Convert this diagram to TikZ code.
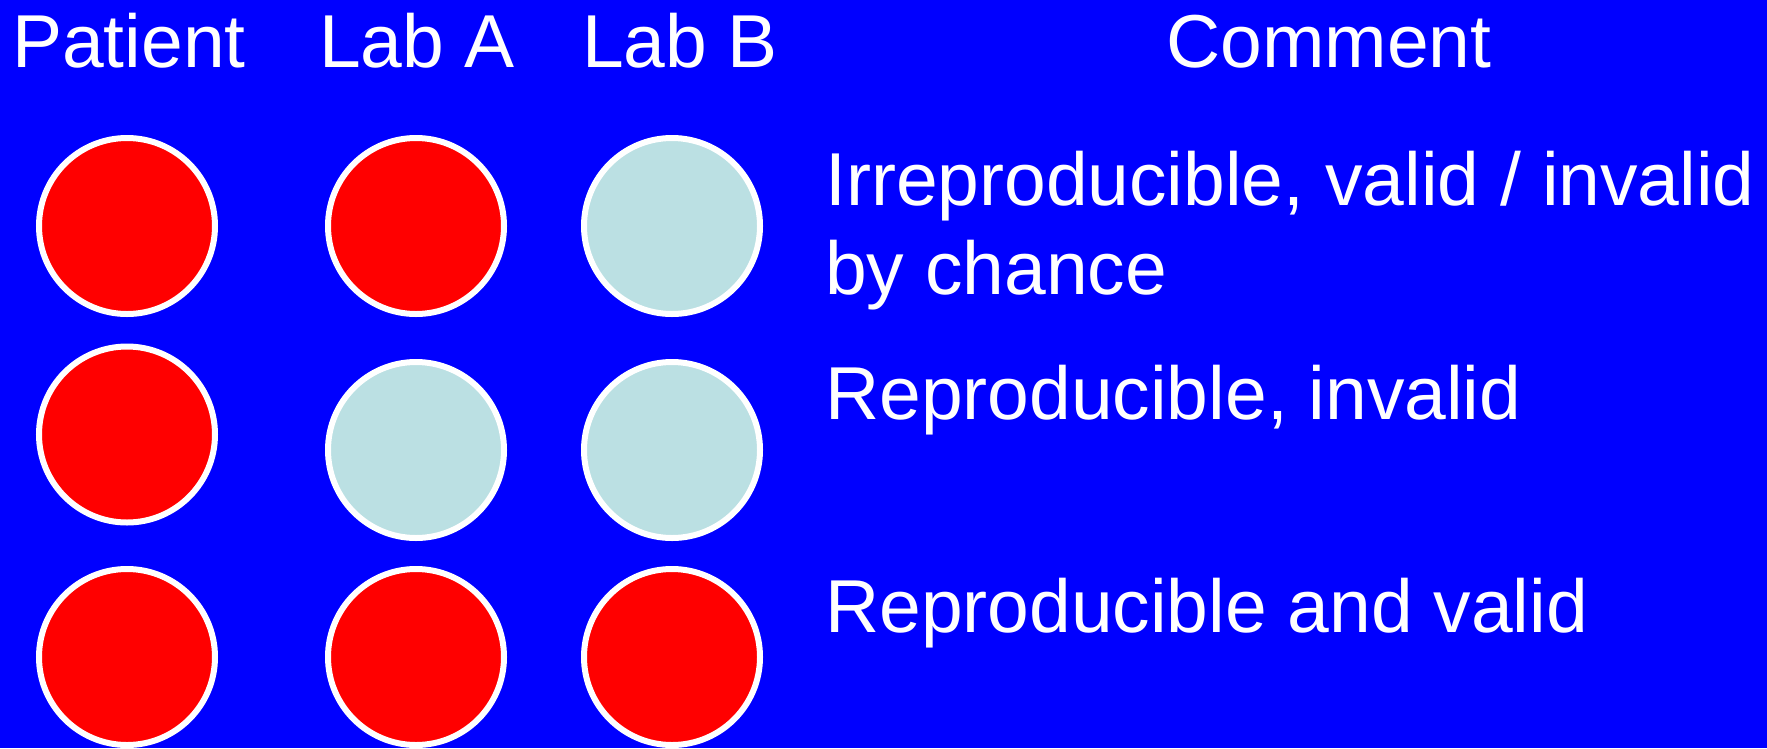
\documentclass[tikz,border=0pt]{standalone}
\usepackage{fontspec}
\setmainfont{Liberation Sans}
\definecolor{bgblue}{HTML}{0000FF}
\definecolor{dotred}{HTML}{FF0000}
\definecolor{dotlight}{HTML}{BBE0E3}
\begin{document}
\begin{tikzpicture}[x=1pt,y=-1pt,
  dot/.style={circle,draw=white,line width=6pt,minimum size=176pt,inner sep=0pt},
  reddot/.style={dot,fill=dotred},
  lightdot/.style={dot,fill=dotlight},
  head/.style={text=white,font=\fontsize{75}{89}\selectfont,inner sep=0pt,anchor=base},
  comment/.style={text=white,font=\fontsize{75}{89}\selectfont,inner sep=0pt,anchor=base west,align=left}]
\fill[bgblue] (0,0) rectangle (1767,748);
\useasboundingbox (0,0) rectangle (1767,748);
\node[head] (hp) at (129,67) {Patient};
\node[head] (ha) at (417,67) {Lab A};
\node[head] (hb) at (680,67) {Lab B};
\node[head] (hc) at (1329,67) {Comment};
\node[reddot] (p1) at (127,226) {};
\node[reddot] (a1) at (416,226) {};
\node[lightdot] (b1) at (672,226) {};
\node[reddot] (p2) at (127,434.5) {};
\node[lightdot] (a2) at (416,450) {};
\node[lightdot] (b2) at (672,450) {};
\node[reddot] (p3) at (127,657) {};
\node[reddot] (a3) at (416,657) {};
\node[reddot] (b3) at (672,657) {};
\node[comment] (c1) at (825,294) {Irreproducible, valid / invalid\\by chance};
\node[comment] (c2) at (825,419) {Reproducible, invalid};
\node[comment] (c3) at (825,632) {Reproducible and valid};
\end{tikzpicture}
\end{document}
